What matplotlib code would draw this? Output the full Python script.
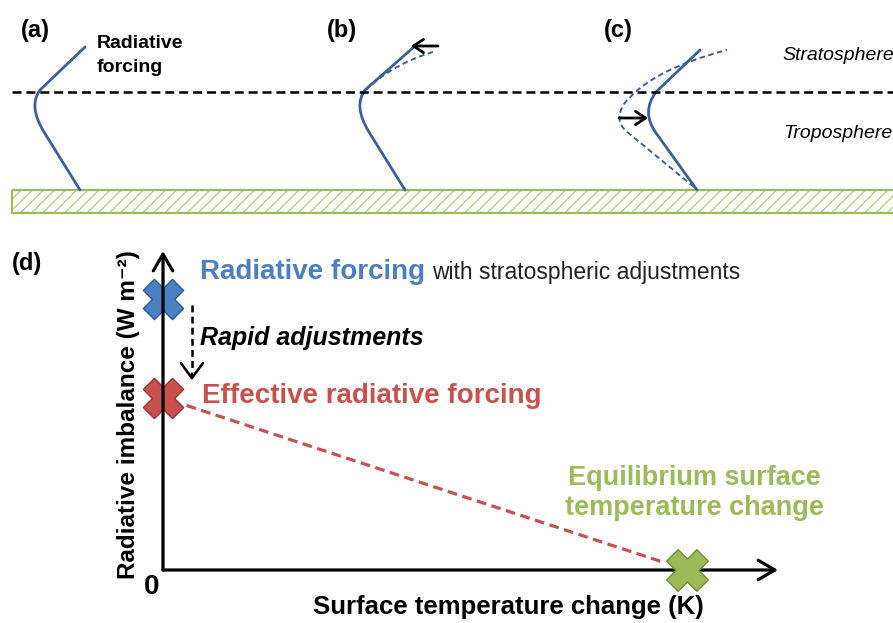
"""Schematic of radiative forcing, rapid adjustments and the effective radiative forcing."""
import matplotlib
matplotlib.use('Agg')
import numpy as np
import matplotlib.pyplot as plt
from matplotlib.path import Path
from matplotlib.patches import PathPatch, Rectangle

plt.rcParams['font.family'] = ['Liberation Sans', 'DejaVu Sans']
plt.rcParams['lines.scale_dashes'] = False
plt.rcParams['hatch.linewidth'] = 1.0

W, H = 893, 623

# colours
c_profile = '#3a5f9c'
c_blue, c_blue_edge = '#4a7fc1', '#2f5a92'
c_red, c_red_edge = '#c8504f', '#9c3436'
c_green, c_green_edge = '#9bbb59', '#6f8f35'
c_hatch = '#b9d08a'

# ---- top row: temperature profiles (pixel layout, y grows downwards) ----
panel_labels = ['(a)', '(b)', '(c)']
panel_label_x = [21, 327, 604]
tropopause_y = 92
ground_top, ground_bottom = 190, 213

M, L, C3 = Path.MOVETO, Path.LINETO, Path.CURVE3
# unperturbed profiles: surface, lower leg, corner control, upper leg, top
profile_a = [(80, 190), (44, 132), (28, 106), (40, 90), (85, 47)]
profile_b = [(405, 190), (369, 132), (353, 106), (365, 90), (415, 46)]
profile_c = [(697, 190), (656, 133), (641, 112), (656, 92), (700, 50)]
codes_profile = [M, L, C3, C3, L]

# adjusted profiles
adjusted_b = [(366, 90), (392, 64), (436, 51)]
codes_adj_b = [M, C3, C3]
adjusted_c = [(694, 187), (626, 131), (614, 120), (624, 104), (650, 70), (727, 50)]
codes_adj_c = [M, L, C3, C3, C3, C3]

# (tail, head) of the adjustment arrows
arrow_b = ((438, 46), (411, 46))
arrow_c = ((619, 118), (648, 118))

# ---- panel (d): imbalance vs surface temperature change (normalised) ----
rf = 0.85      # radiative forcing with stratospheric adjustments
erf = 0.54     # effective radiative forcing
dT_eq = 0.852  # equilibrium surface temperature change

# fat cross marker: a plus sign turned by 45 degrees
w = 0.19
plus = np.array([(-w, -0.5), (w, -0.5), (w, -w), (0.5, -w), (0.5, w), (w, w),
                 (w, 0.5), (-w, 0.5), (-w, w), (-0.5, w), (-0.5, -w), (-w, -w)])
rot = np.array([[np.cos(np.pi / 4), -np.sin(np.pi / 4)],
                [np.sin(np.pi / 4), np.cos(np.pi / 4)]])
cross = Path(np.vstack([plus @ rot.T, plus[:1] @ rot.T]), closed=True)

fig = plt.figure(figsize=(W / 100, H / 100), dpi=100)
ax = fig.add_axes([0, 0, 1, 1])
ax.set_xlim(0, W)
ax.set_ylim(H, 0)
ax.axis('off')

# surface
ax.add_patch(Rectangle((12, ground_top), W, ground_bottom - ground_top,
                       facecolor='#fbfdf7', edgecolor=c_hatch, hatch='///', lw=0))
ax.add_patch(Rectangle((12, ground_top), W, ground_bottom - ground_top,
                       facecolor='none', edgecolor=c_green, lw=1.6))

# tropopause
ax.plot([12, W], [tropopause_y, tropopause_y], color='k', lw=1.8, dashes=(6.5, 3.5))

for prof in [profile_a, profile_b, profile_c]:
    ax.add_patch(PathPatch(Path(prof, codes_profile), facecolor='none',
                           edgecolor=c_profile, lw=2.0, capstyle='round'))
ax.add_patch(PathPatch(Path(adjusted_b, codes_adj_b), facecolor='none',
                       edgecolor=c_profile, lw=1.4, ls=(0, (4, 2.5))))
ax.add_patch(PathPatch(Path(adjusted_c, codes_adj_c), facecolor='none',
                       edgecolor=c_profile, lw=1.4, ls=(0, (4, 2.5))))

for tail, head in [arrow_b, arrow_c]:
    ax.annotate('', xy=head, xytext=tail,
                arrowprops=dict(arrowstyle='->,head_length=0.45,head_width=0.3',
                                mutation_scale=16, lw=2.0, color='k',
                                shrinkA=0, shrinkB=0))

for lab, x in zip(panel_labels, panel_label_x):
    ax.text(x, 37, lab, fontsize=17, fontweight='bold', ha='left', va='baseline')

ax.text(97, 48, 'Radiative', fontsize=14, fontweight='bold', va='baseline')
ax.text(97, 72, 'forcing', fontsize=14, fontweight='bold', va='baseline')
ax.text(782, 60, 'Stratosphere', fontsize=14, style='italic', va='baseline')
ax.text(783, 138, 'Troposphere', fontsize=14, style='italic', va='baseline')

# ---- panel (d) ----
ax.text(12, 270, '(d)', fontsize=17, fontweight='bold', ha='left', va='baseline')
axd = fig.add_axes([163 / W, 1 - 570 / H, (778 - 163) / W, (570 - 251) / H])
axd.set_xlim(0, 1)
axd.set_ylim(0, 1)
axd.axis('off')

axd.plot([0], [rf], marker=cross, ms=29, color=c_blue, mec=c_blue_edge, mew=1,
         clip_on=False, zorder=2)
axd.plot([0], [erf], marker=cross, ms=29, color=c_red, mec=c_red_edge, mew=1,
         clip_on=False, zorder=2)

axis_arrow = dict(arrowstyle='->,head_length=0.6,head_width=0.35', mutation_scale=20,
                  lw=2.3, color='k', shrinkA=0, shrinkB=0)
axd.annotate('', xy=(0, 1), xytext=(0, 0), arrowprops=axis_arrow,
             annotation_clip=False, zorder=3)
axd.annotate('', xy=(1, 0), xytext=(0, 0), arrowprops=axis_arrow,
             annotation_clip=False, zorder=3)

axd.plot([dT_eq], [0], marker=cross, ms=30, color=c_green, mec=c_green_edge, mew=1,
         clip_on=False, zorder=4)

# line from the ERF towards equilibrium
t0, t1 = 0.045, 0.95
axd.plot([t0 * dT_eq, t1 * dT_eq], [erf * (1 - t0), erf * (1 - t1)],
         color=c_red, lw=2.3, dashes=(7, 4), clip_on=False)

# rapid adjustments arrow
x_adj = 0.047
axd.plot([x_adj, x_adj], [rf - 0.02, erf + 0.08], color='k', lw=1.8,
         dashes=(5, 3), clip_on=False)
axd.annotate('', xy=(x_adj, erf + 0.055), xytext=(x_adj, erf + 0.075),
             arrowprops=dict(arrowstyle='->,head_length=0.45,head_width=0.33',
                             mutation_scale=24, lw=1.8, color='k',
                             shrinkA=0, shrinkB=0), annotation_clip=False)

ax.text(200, 279, 'Radiative forcing', fontsize=20, fontweight='bold', color=c_blue,
        va='baseline')
ax.text(432, 279, 'with stratospheric adjustments', fontsize=16.5, va='baseline',
        color='#222222')
ax.text(200, 345, 'Rapid adjustments', fontsize=18, fontweight='bold', style='italic',
        va='baseline')
ax.text(202, 403, 'Effective radiative forcing', fontsize=20, fontweight='bold',
        color=c_red, va='baseline')
ax.text(694, 485, 'Equilibrium surface', fontsize=19.5, fontweight='bold',
        color=c_green, ha='center', va='baseline')
ax.text(694, 515, 'temperature change', fontsize=19.5, fontweight='bold',
        color=c_green, ha='center', va='baseline')

ax.text(152, 587, '0', fontsize=20, fontweight='bold', ha='center', va='center')
ax.text(508, 614, 'Surface temperature change (K)', fontsize=18.5, fontweight='bold',
        ha='center', va='baseline')
ax.text(129, 415, 'Radiative imbalance (W m\u207b\u00b2)', fontsize=17.5,
        fontweight='bold', rotation=90, ha='center', va='center')

fig.savefig('out.png', dpi=100)
